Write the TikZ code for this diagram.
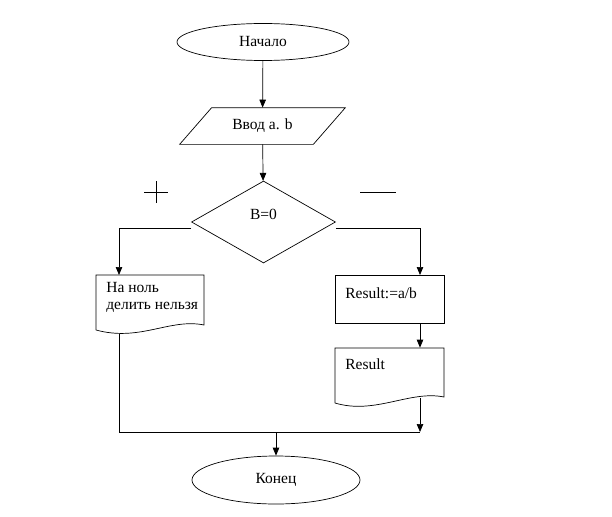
\documentclass[tikz,border=0pt]{standalone}
\usepackage{fontspec}
\setmainfont{Liberation Serif}
\usetikzlibrary{shapes.geometric,arrows.meta}
\begin{document}
\begin{tikzpicture}[x=1pt,y=-1pt,line width=0.7pt,
  arr/.style={-{Triangle[length=8pt,width=6.5pt]}},
  lbl/.style={font=\fontsize{15.5}{17}\selectfont, inner sep=0pt},
  term/.style={ellipse,draw,inner sep=0pt,font=\fontsize{15.5}{17}\selectfont},
  box/.style={rectangle,inner sep=0pt}]
\useasboundingbox (0,0) rectangle (612,516);
% terminals
\node[term, minimum width=172pt, minimum height=37pt] (start) at (263,42) {Начало};
\node[term, minimum width=168pt, minimum height=48pt] (end) at (276,480) {Конец};
% input parallelogram
\node[box, minimum width=133pt, minimum height=36pt, font=\fontsize{15.5}{17}\selectfont] (inp) at (262.5,126) {Ввод а. b};
\draw ([xshift=16pt]inp.north west) -- ([xshift=16pt]inp.north east)
   -- ([xshift=-16pt]inp.south east) -- ([xshift=-16pt]inp.south west) -- cycle;
% decision
\node[diamond, draw, minimum width=144pt, minimum height=82pt, inner sep=0pt] (dia) at (263.5,222) {};
\node[lbl] (tdia) at (263.5,214) {B=0};
% plus and minus
\draw (144,192) -- (168,192) (156,181) -- (156,203);
\draw (360,192) -- (396,192);
% left document
\node[box, minimum width=108pt, minimum height=55pt] (ldoc) at (150,302.5) {};
\draw (96,330) -- (96,275) -- (204,275) -- (204,325) .. controls (170,318) and (140,342) .. (96,330);
\node[lbl, align=left, anchor=north west] (ltext) at (106,282) {На ноль\\делить нельзя};
% right process
\node[box, draw, minimum width=109pt, minimum height=48pt] (rbox) at (389.5,299) {};
\node[lbl, anchor=west] (rtext) at (345,293) {Result:=a/b};
% right document
\node[box, minimum width=109pt, minimum height=55pt] (rdoc) at (389.5,375.5) {};
\draw (335,403) -- (335,348) -- (444,348) -- (444,397) .. controls (410,390) and (375,415) .. (335,403);
\node[lbl, anchor=west] (rdtext) at (345,364) {Result};
% connection coordinates
\coordinate (lin) at (119,275);
\coordinate (lout) at (119,334);
\coordinate (lj) at (119,432);
\coordinate (rin) at (420,275);
\coordinate (rdout) at (420,398);
\coordinate (rj) at (420,432);
% connectors
\draw[arr] (start) -- (inp);
\draw[arr] (inp) -- (dia);
\draw[arr] ([yshift=-6pt]dia.west) -| (lin);
\draw[arr] ([yshift=-6pt]dia.east) -| (rin);
\draw[arr] (rbox.south -| rin) -- (rdoc.north -| rin);
\draw[arr] (rdout) -- (rj);
\draw (lout) -- (lj) -- (rj);
\draw[arr] (end.north |- rj) -- (end);
\end{tikzpicture}
\end{document}
